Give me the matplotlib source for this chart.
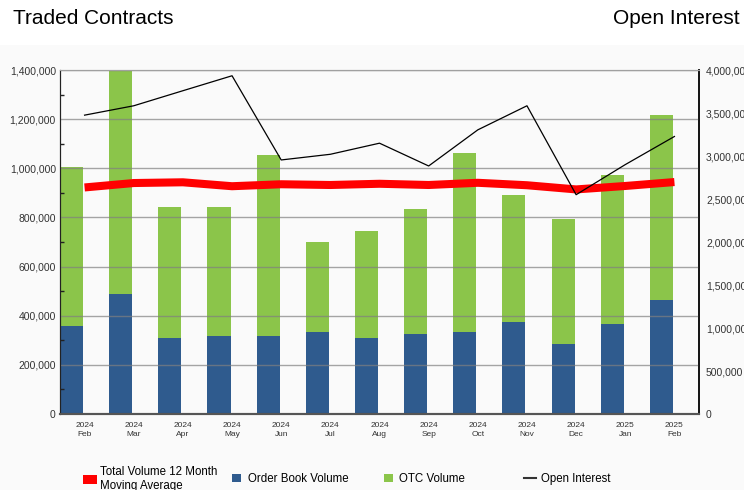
import matplotlib
matplotlib.use("Agg")
import matplotlib.pyplot as plt
from matplotlib.lines import Line2D
from matplotlib.patches import Patch, Rectangle
from matplotlib.ticker import FuncFormatter, MultipleLocator

plt.rcParams["font.family"] = ["Liberation Sans", "DejaVu Sans"]

# --- データ ---
years = ["2024"] * 11 + ["2025"] * 2
months = ["Feb", "Mar", "Apr", "May", "Jun", "Jul", "Aug", "Sep", "Oct", "Nov", "Dec", "Jan", "Feb"]
order_book = [359000, 490000, 310000, 318000, 318000, 335000, 310000, 327000, 335000, 376000, 286000, 367000, 465000]
total_volume = [1004000, 1396000, 841000, 841000, 1053000, 702000, 743000, 833000, 1061000, 890000, 792000, 971000, 1216000]
otc = [t - o for t, o in zip(total_volume, order_book)]
moving_avg = [922000, 940000, 943000, 927000, 935000, 932000, 937000, 932000, 941000, 931000, 914000, 928000, 944000]
open_interest = [3475000, 3584000, 3759000, 3933000, 2954000, 3020000, 3149000, 2884000, 3304000, 3584000, 2550000, 2900000, 3227000]

BLUE = "#2F5B8E"
GREEN = "#8BC54A"
RED = "#FF0000"
BG = "#FAFAFA"

fig = plt.figure(figsize=(7.44, 4.90), dpi=100)
fig.patch.set_facecolor("white")
# 上部の白い帯の下は薄いグレー
fig.patches.append(Rectangle((0, 0), 1, 1 - 45 / 490, transform=fig.transFigure,
                             facecolor=BG, edgecolor="none", zorder=-10))

ax = fig.add_axes([60 / 744, 76 / 490, 639 / 744, 344 / 490])
ax.set_facecolor("none")
ax2 = ax.twinx()

x = list(range(len(months)))
x_bar = [i - 0.5 for i in x]
ax.bar(x_bar, order_book, width=0.47, align="edge", color=BLUE, zorder=1)
ax.bar(x_bar, otc, width=0.47, align="edge", bottom=order_book, color=GREEN, zorder=1)
ax.plot(x, moving_avg, color=RED, lw=5.8, solid_capstyle="butt", solid_joinstyle="round", zorder=4)
ax2.plot(x, open_interest, color="black", lw=0.9, zorder=5)

# 左軸 (取引量)
ax.set_xlim(-0.5, 12.5)
ax.set_ylim(0, 1400000)
ax.yaxis.set_major_locator(MultipleLocator(200000))
ax.yaxis.set_minor_locator(MultipleLocator(100000))
ax.yaxis.set_major_formatter(FuncFormatter(lambda v, p: f"{v:,.0f}"))
ax.tick_params(axis="y", which="major", length=0, pad=3, labelsize=7.5, labelcolor="#333333")
ax.tick_params(axis="y", which="minor", direction="in", length=3, width=1, color="#222222")
ax.grid(axis="y", which="major", color="#808080", alpha=0.7, lw=1)
ax.set_axisbelow(False)

ax.set_xticks(x)
ax.set_xticklabels([f"{y}\n{m}" for y, m in zip(years, months)], fontsize=6,
                   color="#333333", linespacing=1.35)
ax.tick_params(axis="x", length=0, pad=6)

# 右軸 (建玉)
ax2.set_ylim(0, 4000000)
ax2.yaxis.set_major_locator(MultipleLocator(500000))
ax2.yaxis.set_major_formatter(FuncFormatter(lambda v, p: f"{v:,.0f}"))
ax2.tick_params(axis="y", length=0, pad=5, labelsize=7.5, labelcolor="#333333")

for a in (ax, ax2):
    a.spines["top"].set_color("#a0a0a0")
    a.spines["left"].set_color("#222222")
    a.spines["right"].set_color("#111111")
    a.spines["bottom"].set_color("#555555")
    a.spines["bottom"].set_linewidth(1.5)
    a.spines["right"].set_linewidth(1.2)

# タイトル
fig.text(13 / 744, 1 - 18 / 490, "Traded Contracts", fontsize=15, va="center", ha="left")
fig.text(740 / 744, 1 - 18 / 490, "Open Interest", fontsize=15, va="center", ha="right")

# 凡例 (項目ごとに配置)
legend_items = [
    (Patch(facecolor=RED), "Total Volume 12 Month\nMoving Average", 83, 1.25, 0.7, 0.25),
    (Patch(facecolor=BLUE), "Order Book Volume", 232, 0.8, 0.8, 0.6),
    (Patch(facecolor=GREEN), "OTC Volume", 384, 0.8, 0.8, 0.5),
    (Line2D([], [], color="#333333", lw=1.5), "Open Interest", 524, 1.0, 0.8, 0.5),
]
for handle, label, xpos, hl, hh, pad in legend_items:
    fig.legend(handles=[handle], labels=[label], loc="center left",
               bbox_to_anchor=(xpos / 744, 1 - 479 / 490), frameon=False,
               fontsize=8.3, borderpad=0, borderaxespad=0, handlelength=hl,
               handleheight=hh, handletextpad=pad, labelspacing=0)

fig.savefig("out.png", dpi=100, facecolor=fig.get_facecolor())
